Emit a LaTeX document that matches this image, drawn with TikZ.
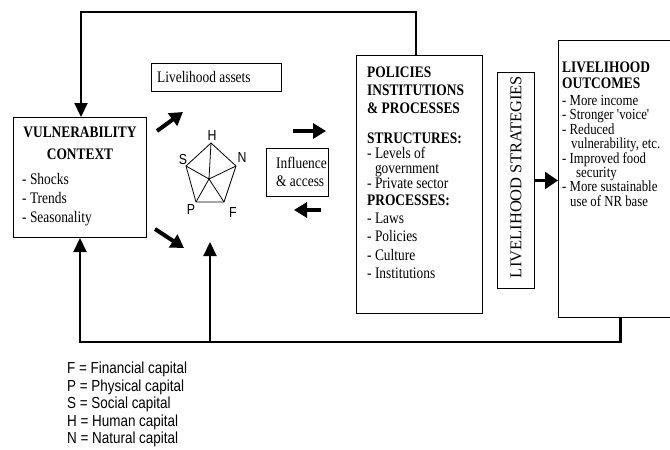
\documentclass[tikz,border=0pt]{standalone}
\usepackage{fontspec}
\setmainfont{Liberation Serif}
\newfontfamily\sansf{Liberation Sans}
\usetikzlibrary{arrows.meta}
\begin{document}
\begin{tikzpicture}[x=1pt,y=-1pt,
  box/.style={draw=black, line width=1pt, inner sep=0pt, anchor=north west},
  txt/.style={inner sep=0pt, anchor=north west, align=left, yscale=1.2},
  conn/.style={line width=2.2pt},
  connarr/.style={line width=2.2pt, -{Triangle[length=14pt,width=13pt]}},
  fatarr/.style={line width=4pt, -{Triangle[length=13pt,width=15pt]}},
  pentlbl/.style={inner sep=0pt, font=\sansf\fontsize{14.5}{14.5}\selectfont, xscale=0.85},
  pentline/.style={line width=0.8pt}
]
\useasboundingbox (0,0) rectangle (670,450);

% ---------- boxes ----------
\node[box, minimum width=133pt, minimum height=120pt] (vc) at (13,117) {};
\node[box, minimum width=130pt, minimum height=28pt] (la) at (151,63) {};
\node[box, minimum width=62pt, minimum height=48pt] (ia) at (266,148) {};
\node[box, line width=1.3pt, minimum width=126pt, minimum height=258pt] (pip) at (356,55) {};
\node[box, minimum width=37pt, minimum height=216pt] (ls) at (497,72) {};
\node[box, minimum width=124pt, minimum height=277pt] (lo) at (558,40) {};

% ---------- texts ----------
\node[txt, anchor=north, align=center, font=\bfseries\fontsize{13.4}{18.33}\selectfont] (vct) at (80,126.5) {VULNERABILITY\\CONTEXT};
\node[txt, font=\fontsize{13.4}{15.83}\selectfont] (vci) at (22,173) {- Shocks\\- Trends\\- Seasonality};

\node[txt, font=\fontsize{13.4}{15}\selectfont] (lat) at (157,71) {Livelihood assets};
\node[txt, font=\fontsize{13.4}{15}\selectfont] (iat) at (276,157) {Influence\\\& access};

\node[txt, font=\bfseries\fontsize{13.4}{15}\selectfont] (pipt) at (367,66.5) {POLICIES\\INSTITUTIONS\\\& PROCESSES};
\node[txt, font=\fontsize{13.4}{12.5}\selectfont] (pips) at (367,132.6) {\textbf{STRUCTURES:}\\- Levels of\\\phantom{- }government\\- Private sector};
\node[txt, font=\fontsize{13.4}{15.2}\selectfont] (pipp) at (367,194.6) {\textbf{PROCESSES:}\\- Laws\\- Policies\\- Culture\\- Institutions};

\node[inner sep=0pt, rotate=90, font=\fontsize{16.5}{16.5}\selectfont] (lst) at (516,177) {LIVELIHOOD STRATEGIES};

\node[txt, font=\bfseries\fontsize{13.4}{13.33}\selectfont] (lot) at (562,61.6) {LIVELIHOOD\\OUTCOMES};
\node[txt, font=\fontsize{12.8}{12}\selectfont] (loi) at (562,95) {- More income\\- Stronger \textquotesingle voice\textquotesingle\\- Reduced\\\hspace*{9pt}vulnerability, etc.\\- Improved food\\\hspace*{14pt}security\\- More sustainable\\\hspace*{8pt}use of NR base};

% ---------- pentagon ----------
\coordinate (pH) at (211,143);
\coordinate (pN) at (236,166);
\coordinate (pF) at (224,202);
\coordinate (pP) at (196,202);
\coordinate (pS) at (186,166);
\coordinate (pC) at (209,179);
\draw[pentline, line join=round] (pH) -- (pN) -- (pF) -- (pP) -- (pS) -- cycle;
\draw[pentline] (pC) -- (pH) (pC) -- (pN) (pC) -- (pF) (pC) -- (pP) (pC) -- (pS);
\node[pentlbl] (lH) at (212,136) {H};
\node[pentlbl] (lS) at (183,160) {S};
\node[pentlbl] (lN) at (242,158) {N};
\node[pentlbl] (lP) at (191,210) {P};
\node[pentlbl] (lF) at (233,213) {F};

% ---------- short fat arrows ----------
\coordinate (a1s) at (157,131); \coordinate (a1e) at (183,112);
\coordinate (a2s) at (155,229); \coordinate (a2e) at (184,248);
\coordinate (a3s) at (293,131); \coordinate (a3e) at (326,131);
\coordinate (a4s) at (321,210); \coordinate (a4e) at (294,210);
\draw[fatarr] (a1s) -- (a1e);
\draw[fatarr] (a2s) -- (a2e);
\draw[fatarr] (a3s) -- (a3e);
\draw[fatarr] (a4s) -- (a4e);

% ---------- connectors ----------
\coordinate (tl) at (81,12);
\draw[connarr] ([xshift=-4pt]pip.north) |- (tl) -- (tl |- vc.north);
\coordinate (bl) at (80,342);
\draw[connarr] (lo.south) |- (bl) -- (bl |- vc.south);
\coordinate (pb) at (210,342);
\coordinate (pt) at (210,242);
\draw[connarr] (pb) -- (pt);
\draw[line width=2.2pt, -{Triangle[length=13pt,width=17pt]}] (ls.east) -- (ls.east -| lo.west);

% ---------- legend ----------
\node[inner sep=0pt, anchor=north west, align=left, font=\sansf\fontsize{16}{17.5}\selectfont, xscale=0.84] (leg) at (67,362) {F = Financial capital\\P = Physical capital\\S = Social capital\\H = Human capital\\N = Natural capital};
\end{tikzpicture}
\end{document}
